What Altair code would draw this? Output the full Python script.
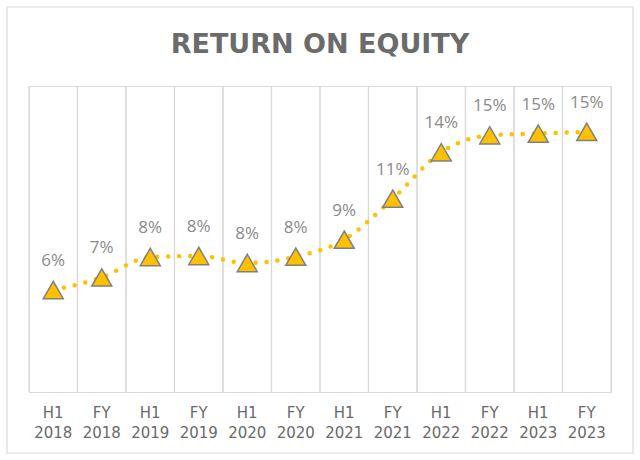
import altair as alt
import pandas as pd

periods = ["H1 2018", "FY 2018", "H1 2019", "FY 2019", "H1 2020", "FY 2020",
           "H1 2021", "FY 2021", "H1 2022", "FY 2022", "H1 2023", "FY 2023"]
roe = [0.060, 0.0674, 0.0794, 0.0800, 0.0759, 0.0796,
       0.0896, 0.1137, 0.1410, 0.1510, 0.1520, 0.1530]

df = pd.DataFrame({"period": periods, "roe": roe})

W, H = 582, 306
xenc = alt.X("period:N", sort=periods,
             scale=alt.Scale(paddingInner=0, paddingOuter=0),
             axis=alt.Axis(title=None, labelAngle=0, ticks=False, grid=False,
                           bandPosition=0.5, labelAlign="center",
                           domainColor="#d9d9d9", domainWidth=1.2,
                           labelExpr="split(datum.label, ' ')",
                           labelFont="DejaVu Sans", labelFontSize=15,
                           labelColor="#6a6a6a", labelLineHeight=20,
                           labelPadding=20, zindex=1))
yscale = alt.Scale(domain=[0, 0.18])

base = alt.Chart(df)

border = alt.Chart(pd.DataFrame({"b": [1]})).mark_rect(
    fillOpacity=0, stroke="#d9d9d9", strokeWidth=1.2
).encode(x=alt.value(-22), x2=alt.value(W + 22), y=alt.value(-79), y2=alt.value(H + 61))

grid_start = base.mark_rule(color="#d9d9d9", strokeWidth=1.2).encode(
    x=alt.X("period:N", sort=periods, bandPosition=0))
grid_end = base.mark_rule(color="#d9d9d9", strokeWidth=1.2).encode(
    x=alt.X("period:N", sort=periods, bandPosition=1))

line = base.mark_line(color="#FFC000", strokeWidth=4.5, strokeDash=[0, 11],
                      strokeCap="round", interpolate="monotone").encode(
    x=xenc, y=alt.Y("roe:Q", scale=yscale, axis=None))

pts = base.mark_point(shape="triangle-up", size=400, filled=True, fill="#FFC000",
                      stroke="#808080", strokeWidth=1.5, opacity=1).encode(
    x=alt.X("period:N", sort=periods), y=alt.Y("roe:Q", scale=yscale))

labels = base.mark_text(font="Open Sans", fontSize=17, color="#8a8a8a",
                        baseline="middle", dy=-29).encode(
    x=alt.X("period:N", sort=periods), y=alt.Y("roe:Q", scale=yscale),
    text=alt.Text("roe:Q", format=".0%"))

chart = alt.layer(border, grid_start, grid_end, line, pts, labels).properties(
    width=W, height=H,
    title=alt.TitleParams("RETURN ON EQUITY", font="DejaVu Sans", fontSize=27,
                          fontWeight="bold", color="#6b6b6b", anchor="middle",
                          offset=-53),
    padding={"left": 29, "top": 86, "right": 29, "bottom": 68},
    autosize=alt.AutoSizeParams(type="none"),
).configure_view(stroke=None).configure(background="white")

chart.save("out.html", embed_options={"renderer": "svg", "actions": False})
